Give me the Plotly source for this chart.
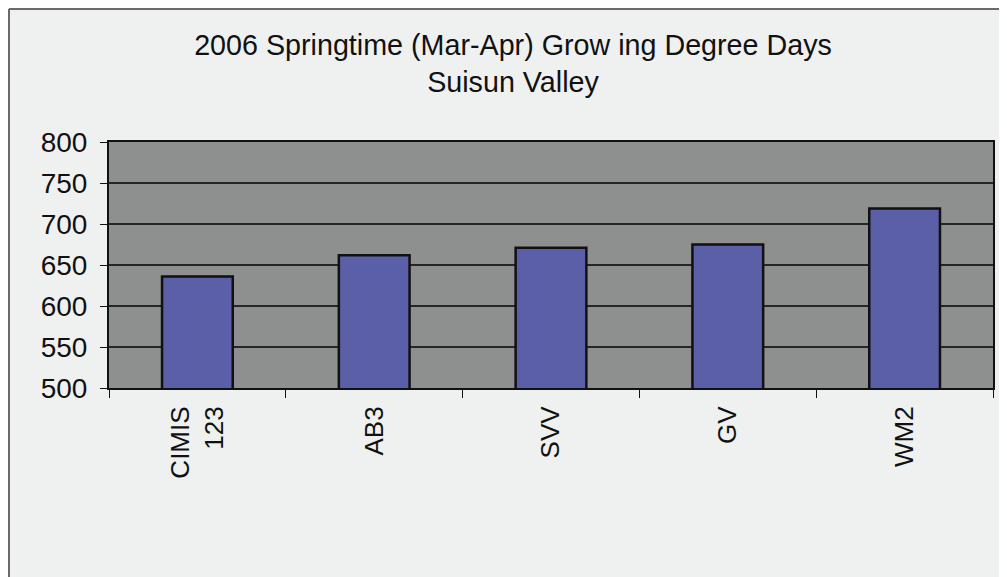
import plotly.graph_objects as go

categories = ["CIMIS<br>123", "AB3", "SVV", "GV", "WM2"]
gdd_values = [636, 662, 671, 675, 719]
y_ticks = [500, 550, 600, 650, 700, 750, 800]

font_family = "Liberation Sans, Arial, sans-serif"

fig = go.Figure(
    go.Bar(
        x=categories,
        y=gdd_values,
        marker=dict(color="#5a5fa8", line=dict(color="#111111", width=2.5)),
        hoverinfo="x+y",
    )
)

# page body has an 8px margin; figure sized to fill the rest of the window
OFF = 8
W, H = 1007 - OFF, 577 - OFF
ml, mr, mt, mb = 109 - OFF, 14, 142 - OFF, 189
pw, ph = W - ml - mr, H - mt - mb

def px_x(p):
    return (p - OFF - ml) / pw

def px_y(p):
    return (H - mb - (p - OFF)) / ph

fig.update_layout(
    width=W,
    height=H,
    margin=dict(l=ml, r=mr, t=mt, b=mb, pad=0),
    paper_bgcolor="#eff1f0",
    plot_bgcolor="#8e908f",
    bargap=0.6,
    showlegend=False,
    font=dict(family=font_family, color="#111111", size=26),
    title=dict(
        text="2006 Springtime (Mar-Apr) Grow ing Degree Days<br>Suisun Valley",
        x=(513 - OFF) / W,
        xanchor="center",
        xref="container",
        y=1 - 47 / H,
        yanchor="top",
        yref="container",
        font=dict(family=font_family, size=28.7, color="#111111"),
    ),
    xaxis=dict(
        showline=True,
        linecolor="#111111",
        linewidth=2,
        mirror=True,
        ticks="outside",
        tickson="boundaries",
        ticklen=8,
        tickcolor="#111111",
        tickangle=-90,
        tickfont=dict(size=26),
        ticklabelstandoff=6,
    ),
    yaxis=dict(
        range=[500, 800],
        tickvals=y_ticks,
        showline=True,
        linecolor="#111111",
        linewidth=2,
        mirror=True,
        ticks="outside",
        ticklen=7,
        tickcolor="#111111",
        showgrid=True,
        gridcolor="#262626",
        gridwidth=1.5,
        tickfont=dict(size=28),
        ticklabelstandoff=7,
        zeroline=False,
    ),
    shapes=[
        dict(type="line", xref="paper", yref="paper",
             x0=px_x(9), x1=px_x(9), y0=px_y(9), y1=px_y(600),
             line=dict(color="#6a6a6a", width=2)),
        dict(type="line", xref="paper", yref="paper",
             x0=px_x(9), x1=px_x(1020), y0=px_y(9), y1=px_y(9),
             line=dict(color="#6a6a6a", width=2)),
    ],
)

fig.write_html("out.html")
